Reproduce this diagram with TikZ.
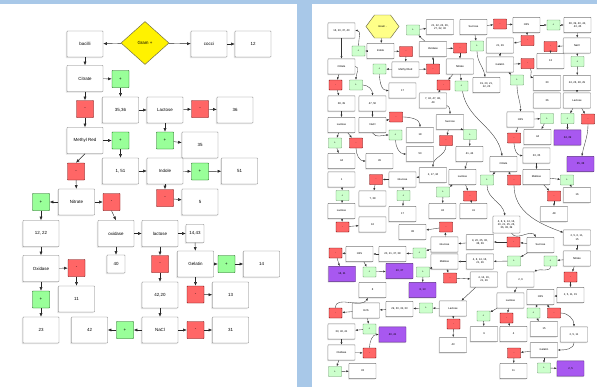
\documentclass[tikz,border=0pt]{standalone}
\usepackage{fontspec}
\setmainfont{Liberation Sans}
\usetikzlibrary{positioning, arrows.meta, shapes.geometric, shadows}
\definecolor{panelblue}{RGB}{168,200,232}
\definecolor{posgreen}{RGB}{153,255,153}
\definecolor{posgreenlt}{RGB}{204,255,204}
\definecolor{negred}{RGB}{255,102,102}
\definecolor{groupviolet}{RGB}{168,88,240}
\definecolor{boxgray}{RGB}{120,120,120}
\definecolor{hexyellow}{RGB}{255,255,136}
\tikzset{
    boxbase/.style={draw=boxgray, fill=white, rounded corners=0.4pt, line width=0.4pt, inner sep=0.5pt, align=center},
    box/.style={boxbase, minimum width=10.8mm, minimum height=7.8mm, font=\fontsize{3.8}{4.4}\selectfont,
        drop shadow={shadow xshift=-0.35mm, shadow yshift=-0.35mm, fill=black!22}},
    sbox/.style={box, minimum width=5.4mm, minimum height=5.4mm},
    posbox/.style={draw=green!35!black, fill=posgreen, line width=0.4pt, rounded corners=0.4pt, minimum size=5.1mm, inner sep=0pt, font=\fontsize{3.8}{4.4}\selectfont},
    negbox/.style={posbox, draw=red!40!black, fill=negred},
    gram/.style={diamond, draw=yellow!35!black, fill=yellow, line width=0.4pt, minimum width=14.4mm, minimum height=12.9mm, inner sep=0pt, font=\fontsize{3.8}{4.4}\selectfont},
    link/.style={-{Latex[length=1.1mm, width=0.9mm]}, line width=0.35pt, draw=black!85},
    rbox/.style={boxbase, minimum width=8.1mm, minimum height=4.6mm, font=\fontsize{2.3}{2.7}\selectfont,
        drop shadow={shadow xshift=-0.25mm, shadow yshift=-0.25mm, fill=black!22}},
    rposbox/.style={posbox, fill=posgreenlt, draw=green!30!black!60, minimum width=3.9mm, minimum height=3mm, font=\fontsize{2.3}{2.7}\selectfont},
    rnegbox/.style={negbox, minimum width=3.9mm, minimum height=3mm, font=\fontsize{2.3}{2.7}\selectfont},
    groupbox/.style={rbox, fill=groupviolet, draw=groupviolet!55!black},
    rlink/.style={-{Latex[length=0.75mm, width=0.6mm]}, line width=0.3pt, draw=black!80}
}

\begin{document}
\begin{tikzpicture}[x=0.3mm, y=-0.3mm]

% Panels
\useasboundingbox (0,0) rectangle (597,387);
\fill[panelblue] (0,0) rectangle (597,387);
\fill[white] (0,4) rectangle (297,387);
\fill[white] (312,4) rectangle (597,387);

% Left key: nodes
\node[gram] (gram) at (145,43) {Gram +};
\node[box] (bacilli) at (85,44) {bacilli};
\node[box] (cocci) at (209,44) {cocci};
\node[box] (c12) at (253,44) {12};
\node[box] (citrate) at (85,78.5) {Citrate};
\node[posbox] (citp) at (120.5,79) {+};
\node[negbox] (citn) at (85,109) {-};
\node[box] (b3536) at (120.5,110) {35,36};
\node[box] (lact) at (165,110) {Lactose};
\node[negbox] (lactn) at (200,109) {-};
\node[box] (b36) at (235,110) {36};
\node[box] (mred) at (85,140.5) {Methyl Red};
\node[posbox] (mredp) at (120.5,140.5) {+};
\node[posbox] (lactp) at (165,140.5) {+};
\node[box] (b35) at (200,145) {35};
\node[negbox] (mredn) at (76,171.5) {-};
\node[box] (b151) at (120.5,171) {1, 51};
\node[box] (indole) at (165,171) {Indole};
\node[posbox] (indp) at (200,171.5) {+};
\node[box] (b51) at (239.5,171) {51};
\node[posbox] (nitp) at (41,202) {+};
\node[box] (nitrate) at (76.5,202) {Nitrate};
\node[negbox] (nitn) at (111.5,202) {-};
\node[negbox] (indn) at (165,198) {-};
\node[box] (b5) at (200,202) {5};
\node[box] (b1222) at (41,233.5) {12, 22};
\node[box] (oxid1) at (116,233.5) {oxidase};
\node[box] (lact2) at (160,233.5) {lactose};
\node[sbox] (b1443) at (195,233.5) {14,43};
\node[box] (oxid2) at (41,268.5) {Oxidase};
\node[negbox] (oxn) at (76.5,268) {-};
\node[sbox] (b40) at (116,264) {40};
\node[negbox] (lact2n) at (160,264) {-};
\node[box] (gelatin) at (195.5,264) {Gelatin};
\node[posbox] (gelp) at (226.5,264) {+};
\node[box] (b14) at (261.5,264) {14};
\node[posbox] (oxp) at (41,299.5) {+};
\node[box] (b11) at (76.5,299) {11};
\node[box] (b4220) at (160,295) {42,20};
\node[negbox] (geln) at (195.5,294.5) {-};
\node[box] (b13) at (230.5,295) {13};
\node[box] (b23) at (41,330) {23};
\node[box] (b42) at (89.5,330) {42};
\node[posbox] (naclp) at (125,330) {+};
\node[box] (nacl) at (160,330) {NaCl};
\node[negbox] (nacln) at (195.5,330) {-};
\node[box] (b31) at (230.5,330) {31};

% Left key: arrows
\draw[link] (gram) -- (bacilli);
\draw[link] (gram) -- (cocci);
\draw[link] (cocci) -- (c12);
\draw[link] (bacilli) -- (citrate);
\draw[link] (citrate) -- (citp);
\draw[link] (citp) -- (b3536);
\draw[link] (citrate) -- (citn);
\draw[link] (citn) -- (mred);
\draw[link] (b3536) -- (lact);
\draw[link] (lact) -- (lactn);
\draw[link] (lactn) -- (b36);
\draw[link] (lact) -- (lactp);
\draw[link] (lactp) -- (b35);
\draw[link] (mred) -- (mredp);
\draw[link] (mredp) -- (b151);
\draw[link] (mred.south) -- (mredn.north);
\draw[link] (mredn) -- (nitrate);
\draw[link] (b151) -- (indole);
\draw[link] (indole) -- (indp);
\draw[link] (indp) -- (b51);
\draw[link] (indole) -- (indn);
\draw[link] (indn) -- (b5);
\draw[link] (nitrate) -- (nitp);
\draw[link] (nitp) -- (b1222);
\draw[link] (nitrate) -- (nitn);
\draw[link] (nitn.south) -- (oxid1.north);
\draw[link] (oxid1) -- (lact2);
\draw[link] (lact2) -- (b1443);
\draw[link] (oxid1) -- (b40);
\draw[link] (b1222) -- (oxid2);
\draw[link] (oxid2) -- (oxn);
\draw[link] (oxn) -- (b11);
\draw[link] (oxid2) -- (oxp);
\draw[link] (oxp) -- (b23);
\draw[link] (lact2) -- (lact2n);
\draw[link] (lact2n) -- (b4220);
\draw[link] (b4220) -- (nacl);
\draw[link] (b1443) -- (gelatin);
\draw[link] (gelatin) -- (gelp);
\draw[link] (gelp) -- (b14);
\draw[link] (gelatin) -- (geln);
\draw[link] (geln) -- (b13);
\draw[link] (nacl) -- (naclp);
\draw[link] (naclp) -- (b42);
\draw[link] (nacl) -- (nacln);
\draw[link] (nacln) -- (b31);

% Right key: nodes
\draw[draw=yellow!35!black, fill=hexyellow, line width=0.4pt]
    (366,26.5) -- (374.5,15) -- (390.5,15) -- (399,26.5) -- (390.5,38) -- (374.5,38) -- cycle;
\node[minimum width=9.9mm, minimum height=6.9mm, inner sep=0pt, font=\fontsize{2.3}{2.7}\selectfont] (gramneg) at (382.5,26.5) {Gram -};
\node[rbox] (rs1) at (341.5,30.5) {16, 20, 37, 40};
\node[rposbox] (rp1) at (358.5,51) {+};
\node[rbox] (rindole) at (380.5,51) {Indole};
\node[rnegbox] (rn1) at (406,51.5) {-};
\node[rbox] (roxid) at (433,49) {Oxidase};
\node[rposbox] (rp2) at (413,30) {+};
\node[rbox] (rs2) at (440,27) {21, 22, 24, 26,\\27, 32, 33};
\node[rbox] (rcit) at (341.5,66.5) {Citrate};
\node[rposbox] (rp3) at (379.5,69) {+};
\node[rbox] (rmred) at (405.5,69.5) {Methyl Red};
\node[rnegbox] (rn2) at (433,69) {-};
\node[rnegbox] (rn3) at (335.5,85) {-};
\node[rposbox] (rp4) at (356,85) {+};
\node[rbox] (rs3) at (402.5,90.5) {17};
\node[rnegbox] (rn4) at (443.5,85) {-};
\node[rbox] (rs4) at (433,100.5) {7, 42, 47, 48,\\49};
\node[rbox] (rsucr) at (473.5,27) {Sucrose};
\node[rnegbox] (rn5) at (500,24) {-};
\node[rbox] (rhs) at (526.5,25) {H2S};
\node[rposbox] (rp5) at (553.5,25) {+};
\node[rbox] (rs5) at (577.5,25) {38, 39, 40, 42,\\43, 45};
\node[rposbox] (rp6) at (477,46) {+};
\node[rbox] (rs6) at (500,45.5) {21, 29};
\node[rnegbox] (rn6) at (527.5,40.5) {-};
\node[rnegbox] (rn7) at (550.5,46.5) {-};
\node[rbox] (rnacl) at (577,45.5) {NaCl};
\node[rnegbox] (rn8) at (460,48) {-};
\node[rbox] (rnit) at (460,66.5) {Nitrate};
\node[rbox] (rgel) at (500,64.5) {Gelatin};
\node[rnegbox] (rn9) at (527.5,63.5) {-};
\node[rbox] (rs7) at (550.5,61) {13};
\node[rposbox] (rp7) at (577.5,61.5) {+};
\node[rposbox] (rp8) at (461.5,86) {+};
\node[rbox] (rs8) at (486.5,85) {19, 20, 21,\\22, 23};
\node[rposbox] (rp9) at (517,80) {+};
\node[rbox] (rs9) at (547,83) {30};
\node[rbox] (rs10) at (577,83) {24, 26, 28, 29};
\node[rbox] (rs11) at (341.5,103.5) {38, 39};
\node[rbox] (rs12) at (372.5,103.5) {47, 50};
\node[rbox] (rlac1) at (341.5,125) {Lactose};
\node[rbox] (rnacl2) at (372.5,125) {NaCl};
\node[rnegbox] (rn10) at (396,117) {-};
\node[rbox] (rsucr2) at (450,122) {Sucrose};
\node[rposbox] (rp10) at (395.5,135) {+};
\node[rbox] (rs13) at (420,135) {18};
\node[rposbox] (rp11) at (335,143) {+};
\node[rnegbox] (rn11) at (356,143) {-};
\node[rnegbox] (rn12) at (446,140.5) {-};
\node[rbox] (rs14) at (420,154) {50};
\node[rbox] (rs15) at (341.5,161) {44};
\node[rbox] (rs16) at (379.5,161) {45};
\node[rbox] (rs17) at (433,175) {2, 17, 34};
\node[rbox] (rs18) at (341.5,179.5) {1};
\node[rnegbox] (rn13) at (376,179.5) {-};
\node[rbox] (rgluc) at (402.5,179.5) {Glucose};
\node[rbox] (rs19) at (547,100.5) {36};
\node[rbox] (rlac2) at (577,100.5) {Lactose};
\node[rbox] (rhs2) at (520.5,119.5) {H2S};
\node[rposbox] (rp12) at (547,118.5) {+};
\node[rposbox] (rp13) at (567.5,118.5) {+};
\node[rnegbox] (rn14) at (588,119) {-};
\node[rposbox] (rp14) at (470,134.5) {+};
\node[rbox] (rs20) at (537.5,137) {44};
\node[groupbox] (rg1) at (567.5,137.5) {34, 39};
\node[rnegbox] (rn15) at (514,138) {-};
\node[rbox] (rs21) at (469.5,154) {41, 44};
\node[rbox] (rs22) at (536.5,155.5) {33, 35};
\node[groupbox] (rg2) at (580.5,164) {35, 38};
\node[rbox] (rcit2) at (503.5,164) {Citrate};
\node[rbox] (rlac3) at (462.5,177) {Lactose};
\node[rposbox] (rp15) at (487,180) {+};
\node[rnegbox] (rn16) at (514,180) {-};
\node[rbox] (rmalt) at (536.5,177) {Maltose};
\node[rposbox] (rp16) at (567,180) {+};
\node[rposbox] (rp17) at (342.5,195.5) {+};
\node[rbox] (rs23) at (372.5,198.5) {7, 38};
\node[rposbox] (rp18) at (403.5,195.5) {+};
\node[rposbox] (rp19) at (443,192) {+};
\node[rbox] (rlac4) at (341.5,211) {Lactose};
\node[rbox] (rs24) at (402.5,214) {17};
\node[rbox] (rs25) at (442.5,211) {43};
\node[rnegbox] (rn17) at (342.5,227) {-};
\node[rbox] (rs26) at (372.5,224.5) {16};
\node[rbox] (rs27) at (412.5,232) {38};
\node[rnegbox] (rn18) at (446,227) {-};
\node[rbox] (rgluc2) at (444.5,244.5) {Glucose};
\node[rnegbox] (rn19) at (335.5,253) {-};
\node[rbox] (rh2s3) at (359.5,254) {H2S};
\node[rbox] (rs28) at (392.5,254) {20, 21, 37, 38};
\node[rposbox] (rp20) at (419.5,253) {+};
\node[rbox] (rmalt2) at (444.5,261.5) {Maltose};
\node[groupbox] (rg3) at (342,274) {16, 21};
\node[rposbox] (rp21) at (369.5,272) {+};
\node[groupbox] (rg4) at (399.5,271) {20, 37};
\node[rposbox] (rp22) at (423,272) {+};
\node[rnegbox] (rn20) at (450,278) {-};
\node[rnegbox] (rn21) at (470,196) {-};
\node[rbox] (rs29) at (473.5,211) {41};
\node[rnegbox] (rn22) at (554,196) {-};
\node[rbox] (rs30) at (577,195) {16};
\node[rbox] (rs31) at (554,214) {48};
\node[rbox, minimum height=5.1mm] (rs32) at (506.5,224.5) {4, 8, 9, 14, 16,\\20, 21, 25, 26,\\36, 38, 39};
\node[rbox] (rs33) at (577,237.5) {2, 5, 6, 11,\\15};
\node[rbox] (rs34) at (480,242) {9, 20, 25, 36,\\38, 39};
\node[rnegbox] (rn23) at (513.5,242) {-};
\node[rbox] (rsucr3) at (540.5,245) {Sucrose};
\node[rbox] (rs35) at (480,261.5) {4, 8, 14, 16,\\21, 26};
\node[rposbox] (rp23) at (514,261) {+};
\node[rposbox] (rp24) at (550.5,261) {+};
\node[rbox] (rnit2) at (577,258.5) {Nitrate};
\node[rbox] (rs36) at (484,279.5) {4, 14, 16,\\21, 26};
\node[rbox] (rs37) at (520.5,279.5) {2, 6};
\node[rnegbox] (rn24) at (570.5,277) {-};
\node[groupbox] (rg5) at (422.5,290) {8, 13};
\node[rbox] (rs38) at (372.5,290) {8};
\node[rnegbox] (rn25) at (335.5,313) {-};
\node[rbox] (rh2s4) at (366,310.5) {H2S};
\node[rbox] (rs39) at (399.5,309) {29, 30, 32, 33};
\node[rposbox] (rp25) at (426,308) {+};
\node[rbox] (rlac5) at (453,308.5) {Lactose};
\node[rbox] (rlac6) at (510.5,300.5) {Lactose};
\node[rbox] (rh2s5) at (540.5,297) {H2S};
\node[rbox] (rs40) at (570.5,295) {2, 5, 11, 15};
\node[rposbox] (rp26) at (483.5,316) {+};
\node[rposbox] (rp27) at (533.5,313) {+};
\node[rnegbox] (rn26) at (554,313) {-};
\node[rnegbox] (rn27) at (506.5,318) {-};
\node[rnegbox] (rn28) at (453.5,324) {-};
\node[rbox] (rs41) at (544,329) {15};
\node[rbox] (rs42) at (574,334.5) {2, 5, 11};
\node[rbox] (rs43) at (484,334) {9};
\node[rbox] (rs44) at (513.5,334) {4};
\node[rbox] (rs45) at (453,345) {43};
\node[rbox] (rgel2) at (544,350) {Gelatin};
\node[rnegbox] (rn29) at (514,353) {-};
\node[rbox] (rs46) at (513.5,371) {11};
\node[rposbox] (rp28) at (544,368) {+};
\node[groupbox] (rg6) at (570.5,368.5) {2, 5};
\node[rbox] (rs47) at (341.5,331.5) {33, 40, 41};
\node[rposbox] (rp29) at (369.5,329) {+};
\node[groupbox] (rg7) at (392.5,334.5) {40, 41};
\node[rbox] (roxid2) at (341.5,352.5) {Oxidase};
\node[rnegbox] (rn30) at (369.5,353) {-};
\node[rposbox] (rp30) at (335,371.5) {+};
\node[rbox] (rs48) at (362.5,371) {33};

% Right key: arrows
\draw[rlink] (gramneg) -- (rindole);
\draw[rlink] (rindole) -- (rp1);
\draw[rlink] (rp1) to[out=90, in=0] (rs1);
\draw[rlink] (rs1) -- (rcit);
\draw[rlink] (rindole) -- (rn1);
\draw[rlink] (rn1) -- (rmred);
\draw[rlink] (rmred) -- (rp3);
\draw[rlink] (rp3) to[out=-90, in=180] (rs3);
\draw[rlink] (rmred) -- (rn2);
\draw[rlink] (rn2) -- (roxid);
\draw[rlink] (roxid) -- (rp2);
\draw[rlink] (rp2) -- (rs2);
\draw[rlink] (roxid) -- (rn8);
\draw[rlink] (rn8) -- (rnit);
\draw[rlink] (rnit) -- (rn4);
\draw[rlink] (rn4) -- (rs4);
\draw[rlink] (rnit) -- (rp8);
\draw[rlink] (rp8) to[out=-80, in=100] (rcit2);
\draw[rlink] (rsucr) -- (rn5);
\draw[rlink] (rn5) -- (rhs);
\draw[rlink] (rhs) -- (rp5);
\draw[rlink] (rp5) -- (rs5);
\draw[rlink] (rsucr) -- (rp6);
\draw[rlink] (rp6) to[out=-90, in=100] (rs8);
\draw[rlink] (rhs) -- (rn6);
\draw[rlink] (rn6) -- (rs6);
\draw[rlink] (rs5) -- (rnacl);
\draw[rlink] (rnacl) -- (rn7);
\draw[rlink] (rn7) -- (rs7);
\draw[rlink] (rnacl) -- (rp7);
\draw[rlink] (rp7) -- (rs10);
\draw[rlink] (rs6) -- (rgel);
\draw[rlink] (rgel) -- (rn9);
\draw[rlink] (rn9) to[out=-60, in=160] (rs9);
\draw[rlink] (rgel) -- (rp9);
\draw[rlink] (rp9) to[out=-90, in=90] (rhs2);
\draw[rlink] (rs10) -- (rlac2);
\draw[rlink] (rlac2) -- (rp13);
\draw[rlink] (rp13) -- (rg1);
\draw[rlink] (rlac2) -- (rn14);
\draw[rlink] (rn14) to[out=-90, in=80] (rg2);
\draw[rlink] (rhs2) -- (rp12);
\draw[rlink] (rp12) -- (rs20);
\draw[rlink] (rhs2) -- (rn15);
\draw[rlink] (rn15) to[out=-90, in=180] (rs22);
\draw[rlink] (rs22) -- (rmalt);
\draw[rlink] (rmalt) -- (rp16);
\draw[rlink] (rp16) -- (rs30);
\draw[rlink] (rmalt) -- (rn22);
\draw[rlink] (rn22) -- (rs31);
\draw[rlink] (rcit) -- (rn3);
\draw[rlink] (rcit.east) to[out=0, in=90] (rp4);
\draw[rlink] (rn3) -- (rs11);
\draw[rlink] (rp4) to[out=0, in=90] (rs12);
\draw[rlink] (rs11) -- (rlac1);
\draw[rlink] (rs12) -- (rnacl2);
\draw[rlink] (rlac1) -- (rp11);
\draw[rlink] (rlac1) -- (rn11);
\draw[rlink] (rp11) -- (rs15);
\draw[rlink] (rn11) to[out=-90, in=180] (rs16);
\draw[rlink] (rnacl2) -- (rn10);
\draw[rlink] (rn10) to[out=0, in=90] (rs13);
\draw[rlink] (rnacl2.south) to[out=-60, in=180] (rp10);
\draw[rlink] (rp10) to[out=-90, in=180] (rs14);
\draw[rlink] (rs4) to[out=-20, in=90] (rsucr2);
\draw[rlink] (rsucr2) -- (rn12);
\draw[rlink] (rn12) to[out=-90, in=90] (rs17);
\draw[rlink] (rsucr2) -- (rp14);
\draw[rlink] (rp14) -- (rs21);
\draw[rlink] (rs17) -- (rgluc);
\draw[rlink] (rgluc) -- (rn13);
\draw[rlink] (rn13) -- (rs23);
\draw[rlink] (rgluc) -- (rp18);
\draw[rlink] (rp18) -- (rs24);
\draw[rlink] (rs21) -- (rlac3);
\draw[rlink] (rlac3) -- (rp19);
\draw[rlink] (rp19) -- (rs25);
\draw[rlink] (rlac3) -- (rn21);
\draw[rlink] (rn21) -- (rs29);
\draw[rlink] (rs18) -- (rp17);
\draw[rlink] (rp17) -- (rlac4);
\draw[rlink] (rlac4) -- (rn17);
\draw[rlink] (rn17) -- (rs26);
\draw[rlink] (rcit2) -- (rp15);
\draw[rlink] (rp15) to[out=-90, in=100] (rs32);
\draw[rlink] (rcit2) -- (rn16);
\draw[rlink] (rn16) to[out=-90, in=160] (rs33);
\draw[rlink] (rs32) to[out=-60, in=120] (rsucr3);
\draw[rlink] (rsucr3) -- (rn23);
\draw[rlink] (rn23) -- (rs34);
\draw[rlink] (rs34) -- (rgluc2);
\draw[rlink] (rsucr3) -- (rp23);
\draw[rlink] (rp23) -- (rs35);
\draw[rlink] (rs35) -- (rmalt2);
\draw[rlink] (rgluc2) -- (rn18);
\draw[rlink] (rn18) -- (rs27);
\draw[rlink] (rgluc2) -- (rp20);
\draw[rlink] (rp20) -- (rs28);
\draw[rlink] (rs28) -- (rh2s3);
\draw[rlink] (rh2s3) -- (rn19);
\draw[rlink] (rn19) -- (rg3);
\draw[rlink] (rh2s3) -- (rp21);
\draw[rlink] (rp21) -- (rg4);
\draw[rlink] (rmalt2) -- (rp22);
\draw[rlink] (rp22) -- (rg5);
\draw[rlink] (rmalt2) -- (rn20);
\draw[rlink] (rn20) -- (rs36);
\draw[rlink] (rs36) -- (rlac5);
\draw[rlink] (rs33) -- (rnit2);
\draw[rlink] (rnit2) -- (rp24);
\draw[rlink] (rp24) to[out=-90, in=30] (rs37);
\draw[rlink] (rnit2) -- (rn24);
\draw[rlink] (rn24) -- (rs40);
\draw[rlink] (rs37) -- (rlac6);
\draw[rlink] (rlac6) -- (rp26);
\draw[rlink] (rp26) -- (rs43);
\draw[rlink] (rlac6) -- (rn27);
\draw[rlink] (rn27) -- (rs44);
\draw[rlink] (rs40) -- (rh2s5);
\draw[rlink] (rh2s5) -- (rp27);
\draw[rlink] (rp27) -- (rs41);
\draw[rlink] (rh2s5) -- (rn26);
\draw[rlink] (rn26) to[out=0, in=90] (rs42);
\draw[rlink] (rs42) to[out=-90, in=0] (rgel2);
\draw[rlink] (rgel2) -- (rn29);
\draw[rlink] (rn29) -- (rs46);
\draw[rlink] (rgel2) -- (rp28);
\draw[rlink] (rp28) -- (rg6);
\draw[rlink] (rlac5) -- (rp25);
\draw[rlink] (rp25) -- (rs39);
\draw[rlink] (rs39) -- (rh2s4);
\draw[rlink] (rlac5) -- (rn28);
\draw[rlink] (rn28) -- (rs45);
\draw[rlink] (rh2s4) -- (rn25);
\draw[rlink] (rn25) to[out=90, in=-120] (rs38);
\draw[rlink] (rh2s4) -- (rp29);
\draw[rlink] (rp29) -- (rs47);
\draw[rlink] (rs47) -- (roxid2);
\draw[rlink] (roxid2) -- (rn30);
\draw[rlink] (rn30) to[out=90, in=180] (rg7);
\draw[rlink] (roxid2) -- (rp30);
\draw[rlink] (rp30) -- (rs48);

\end{tikzpicture}
\end{document}
